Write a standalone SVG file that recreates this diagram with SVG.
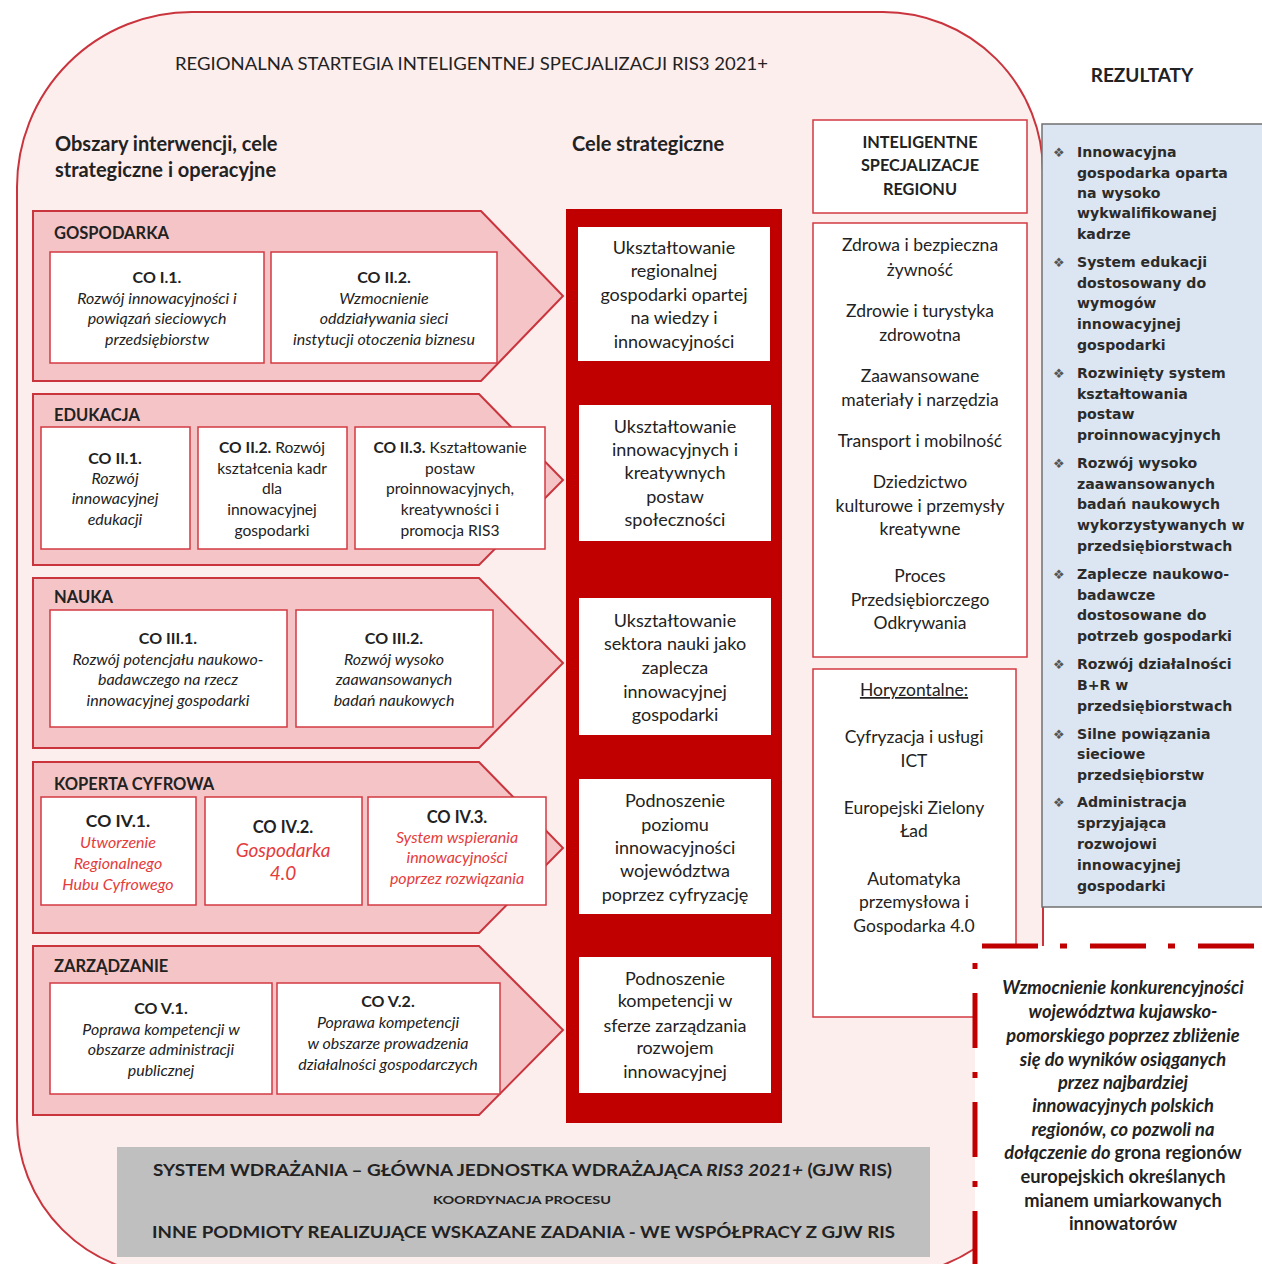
<svg xmlns="http://www.w3.org/2000/svg" width="1262" height="1264" viewBox="0 0 1262 1264">
<style>
.t{font-family:Lato,"Liberation Sans",sans-serif;fill:#222}
.b{font-weight:bold}
.i{font-style:italic}
.r{fill:#e53b3b}
.m{text-anchor:middle}
.co{font-size:16px}
.sl{font-size:16.5px;font-weight:bold}
.sc{font-size:18px}
.sp{font-size:17.5px}
.sec{fill:#f5c4c6;stroke:#c9343d;stroke-width:2}
.box{fill:#fff;stroke:#d23a42;stroke-width:1.5}
.wbox{fill:#fff}
.res{font-family:"DejaVu Sans","Liberation Sans",sans-serif;font-weight:bold;fill:#2b2b2b;font-size:14.1px}
.bul{font-family:"DejaVu Sans",sans-serif;fill:#555;font-size:13px}
</style>
<rect width="1262" height="1264" fill="#fff"/>
<g id="container">
<path d="M17,187 A175,175 0 0 1 192,12 L883,12 A160,160 0 0 1 1043,172 L1043,1120 A155,155 0 0 1 888,1275 L172,1275 A155,155 0 0 1 17,1120 Z" fill="#fdeeee" stroke="#c9343d" stroke-width="2"/>
</g>
<g id="titles">
<text class="t" x="175" y="70" font-size="16.5" textLength="593" lengthAdjust="spacingAndGlyphs">REGIONALNA STARTEGIA INTELIGENTNEJ SPECJALIZACJI RIS3 2021+</text>
<text class="t b" x="1142" y="82" font-size="19" text-anchor="middle">REZULTATY</text>
<text class="t b" x="55" y="151" font-size="20">Obszary interwencji, cele</text>
<text class="t b" x="55" y="177" font-size="20">strategiczne i operacyjne</text>
<text class="t b" x="572" y="151" font-size="20">Cele strategiczne</text>
</g>
<g id="sec-gospodarka">
<polygon class="sec" points="33,211 481,211 563,296 481,381 33,381"/>
<text class="t sl" x="54" y="239">GOSPODARKA</text>
<rect class="box" x="50" y="252" width="214" height="111"/>
<text class="t m co"><tspan class="b" x="157" y="283">CO I.1.</tspan><tspan class="i" x="157" y="304">Rozwój innowacyjności i</tspan><tspan class="i" x="157" y="324">powiązań sieciowych</tspan><tspan class="i" x="157" y="345">przedsiębiorstw</tspan></text>
<rect class="box" x="271" y="252" width="226" height="111"/>
<text class="t m co"><tspan class="b" x="384" y="283">CO II.2.</tspan><tspan class="i" x="384" y="304">Wzmocnienie</tspan><tspan class="i" x="384" y="324">oddziaływania sieci</tspan><tspan class="i" x="384" y="345">instytucji otoczenia biznesu</tspan></text>
</g>
<g id="sec-edukacja">
<polygon class="sec" points="33,394 479,394 563,480 479,565 33,565"/>
<text class="t sl" x="54" y="421">EDUKACJA</text>
<rect class="box" x="41" y="427" width="149" height="122"/>
<text class="t m co"><tspan class="b" x="115" y="464">CO II.1.</tspan><tspan class="i" x="115" y="484">Rozwój</tspan><tspan class="i" x="115" y="504">innowacyjnej</tspan><tspan class="i" x="115" y="525">edukacji</tspan></text>
<rect class="box" x="198" y="427" width="149" height="122"/>
<text class="t m" font-size="15.6"><tspan x="272" y="453"><tspan class="b">CO II.2.</tspan> Rozwój</tspan><tspan x="272" y="474">kształcenia kadr</tspan><tspan x="272" y="494">dla</tspan><tspan x="272" y="515">innowacyjnej</tspan><tspan x="272" y="536">gospodarki</tspan></text>
<rect class="box" x="355" y="427" width="190" height="122"/>
<text class="t m" font-size="15.6"><tspan x="450" y="453"><tspan class="b">CO II.3.</tspan> Kształtowanie</tspan><tspan x="450" y="474">postaw</tspan><tspan x="450" y="494">proinnowacyjnych,</tspan><tspan x="450" y="515">kreatywności i</tspan><tspan x="450" y="536">promocja RIS3</tspan></text>
</g>
<g id="sec-nauka">
<polygon class="sec" points="33,578 479,578 563,663 479,748 33,748"/>
<text class="t sl" x="54" y="603">NAUKA</text>
<rect class="box" x="50" y="610" width="237" height="117"/>
<text class="t m co"><tspan class="b" x="168" y="644">CO III.1.</tspan><tspan class="i" x="168" y="665">Rozwój potencjału naukowo-</tspan><tspan class="i" x="168" y="685">badawczego na rzecz</tspan><tspan class="i" x="168" y="706">innowacyjnej gospodarki</tspan></text>
<rect class="box" x="296" y="610" width="197" height="117"/>
<text class="t m co"><tspan class="b" x="394" y="644">CO III.2.</tspan><tspan class="i" x="394" y="665">Rozwój wysoko</tspan><tspan class="i" x="394" y="685">zaawansowanych</tspan><tspan class="i" x="394" y="706">badań naukowych</tspan></text>
</g>
<g id="sec-koperta">
<polygon class="sec" points="33,762 479,762 563,848 479,933 33,933"/>
<text class="t sl" x="54" y="790">KOPERTA CYFROWA</text>
<rect class="box" x="41" y="797" width="155" height="108"/>
<text class="t m co"><tspan class="b" x="118" y="827" font-size="17.5">CO IV.1.</tspan><tspan class="i r" x="118" y="848">Utworzenie</tspan><tspan class="i r" x="118" y="869">Regionalnego</tspan><tspan class="i r" x="118" y="890">Hubu Cyfrowego</tspan></text>
<rect class="box" x="205" y="797" width="157" height="108"/>
<text class="t m" font-size="19"><tspan class="b" x="283" y="833" font-size="16.5">CO IV.2.</tspan><tspan class="i r" x="283" y="857">Gospodarka</tspan><tspan class="i r" x="283" y="880">4.0</tspan></text>
<rect class="box" x="368" y="797" width="178" height="108"/>
<text class="t m co"><tspan class="b" x="457" y="823" font-size="16.5">CO IV.3.</tspan><tspan class="i r" x="457" y="843">System wspierania</tspan><tspan class="i r" x="457" y="863">innowacyjności</tspan><tspan class="i r" x="457" y="884">poprzez rozwiązania</tspan></text>
</g>
<g id="sec-zarzadzanie">
<polygon class="sec" points="33,946 479,946 563,1030 479,1115 33,1115"/>
<text class="t sl" x="54" y="972">ZARZĄDZANIE</text>
<rect class="box" x="50" y="983" width="222" height="111"/>
<text class="t m co"><tspan class="b" x="161" y="1014">CO V.1.</tspan><tspan class="i" x="161" y="1035">Poprawa kompetencji w</tspan><tspan class="i" x="161" y="1055">obszarze administracji</tspan><tspan class="i" x="161" y="1076">publicznej</tspan></text>
<rect class="box" x="277" y="983" width="223" height="111"/>
<text class="t m co"><tspan class="b" x="388" y="1007">CO V.2.</tspan><tspan class="i" x="388" y="1028">Poprawa kompetencji</tspan><tspan class="i" x="388" y="1049">w obszarze prowadzenia</tspan><tspan class="i" x="388" y="1070">działalności gospodarczych</tspan></text>
</g>
<g id="cele-strategiczne">
<rect x="566" y="209" width="216" height="914" fill="#c00000"/>
<rect class="wbox" x="578" y="227" width="192" height="134"/>
<text class="t m sc"><tspan x="674" y="254">Ukształtowanie</tspan><tspan x="674" y="277">regionalnej</tspan><tspan x="674" y="301">gospodarki opartej</tspan><tspan x="674" y="324">na wiedzy i</tspan><tspan x="674" y="348">innowacyjności</tspan></text>
<rect class="wbox" x="579" y="405" width="192" height="136"/>
<text class="t m sc"><tspan x="675" y="433">Ukształtowanie</tspan><tspan x="675" y="456">innowacyjnych i</tspan><tspan x="675" y="479">kreatywnych</tspan><tspan x="675" y="503">postaw</tspan><tspan x="675" y="526">społeczności</tspan></text>
<rect class="wbox" x="579" y="598" width="192" height="137"/>
<text class="t m sc"><tspan x="675" y="627">Ukształtowanie</tspan><tspan x="675" y="650">sektora nauki jako</tspan><tspan x="675" y="674">zaplecza</tspan><tspan x="675" y="698">innowacyjnej</tspan><tspan x="675" y="721">gospodarki</tspan></text>
<rect class="wbox" x="579" y="779" width="192" height="135"/>
<text class="t m sc"><tspan x="675" y="807">Podnoszenie</tspan><tspan x="675" y="831">poziomu</tspan><tspan x="675" y="854">innowacyjności</tspan><tspan x="675" y="877">województwa</tspan><tspan x="675" y="901">poprzez cyfryzację</tspan></text>
<rect class="wbox" x="579" y="957" width="192" height="136"/>
<text class="t m sc"><tspan x="675" y="985">Podnoszenie</tspan><tspan x="675" y="1007">kompetencji w</tspan><tspan x="675" y="1032">sferze zarządzania</tspan><tspan x="675" y="1054">rozwojem</tspan><tspan x="675" y="1078">innowacyjnej</tspan></text>
</g>
<g id="inteligentne-specjalizacje">
<rect class="box" x="813" y="120" width="214" height="93"/>
<text class="t m b" font-size="16.3"><tspan x="920" y="148">INTELIGENTNE</tspan><tspan x="920" y="171">SPECJALIZACJE</tspan><tspan x="920" y="195">REGIONU</tspan></text>
</g>
<g id="specjalizacje">
<rect class="box" x="813" y="223" width="214" height="434"/>
<text class="t m sp"><tspan x="920" y="251">Zdrowa i bezpieczna</tspan><tspan x="920" y="276">żywność</tspan><tspan x="920" y="317">Zdrowie i turystyka</tspan><tspan x="920" y="341">zdrowotna</tspan><tspan x="920" y="382">Zaawansowane</tspan><tspan x="920" y="406">materiały i narzędzia</tspan><tspan x="920" y="447">Transport i mobilność</tspan><tspan x="920" y="488">Dziedzictwo</tspan><tspan x="920" y="512">kulturowe i przemysły</tspan><tspan x="920" y="535">kreatywne</tspan><tspan x="920" y="582">Proces</tspan><tspan x="920" y="606">Przedsiębiorczego</tspan><tspan x="920" y="629">Odkrywania</tspan></text>
</g>
<g id="horyzontalne">
<rect class="box" x="813" y="669" width="203" height="348"/>
<text class="t m sp" x="914" y="696" text-decoration="underline">Horyzontalne:</text>
<text class="t m sp"><tspan x="914" y="743">Cyfryzacja i usługi</tspan><tspan x="914" y="767">ICT</tspan><tspan x="914" y="814">Europejski Zielony</tspan><tspan x="914" y="837">Ład</tspan><tspan x="914" y="885">Automatyka</tspan><tspan x="914" y="908">przemysłowa i</tspan><tspan x="914" y="932">Gospodarka 4.0</tspan></text>
</g>
<g id="rezultaty">
<rect x="1042" y="124" width="230" height="783" fill="#dce6f2" stroke="#707070" stroke-width="1.5"/>
<g class="bul">
<text x="1053" y="157">❖</text><text x="1053" y="267">❖</text><text x="1053" y="378">❖</text><text x="1053" y="468">❖</text><text x="1053" y="579">❖</text><text x="1053" y="669">❖</text><text x="1053" y="739">❖</text><text x="1053" y="807">❖</text>
</g>
<text class="res"><tspan x="1077" y="157">Innowacyjna</tspan><tspan x="1077" y="178">gospodarka oparta</tspan><tspan x="1077" y="198">na wysoko</tspan><tspan x="1077" y="218">wykwalifikowanej</tspan><tspan x="1077" y="239">kadrze</tspan><tspan x="1077" y="267">System edukacji</tspan><tspan x="1077" y="288">dostosowany do</tspan><tspan x="1077" y="308">wymogów</tspan><tspan x="1077" y="329">innowacyjnej</tspan><tspan x="1077" y="350">gospodarki</tspan><tspan x="1077" y="378">Rozwinięty system</tspan><tspan x="1077" y="399">kształtowania</tspan><tspan x="1077" y="419">postaw</tspan><tspan x="1077" y="440">proinnowacyjnych</tspan><tspan x="1077" y="468">Rozwój wysoko</tspan><tspan x="1077" y="489">zaawansowanych</tspan><tspan x="1077" y="509">badań naukowych</tspan><tspan x="1077" y="530">wykorzystywanych w</tspan><tspan x="1077" y="551">przedsiębiorstwach</tspan><tspan x="1077" y="579">Zaplecze naukowo-</tspan><tspan x="1077" y="600">badawcze</tspan><tspan x="1077" y="620">dostosowane do</tspan><tspan x="1077" y="641">potrzeb gospodarki</tspan><tspan x="1077" y="669">Rozwój działalności</tspan><tspan x="1077" y="690">B+R w</tspan><tspan x="1077" y="711">przedsiębiorstwach</tspan><tspan x="1077" y="739">Silne powiązania</tspan><tspan x="1077" y="759">sieciowe</tspan><tspan x="1077" y="780">przedsiębiorstw</tspan><tspan x="1077" y="807">Administracja</tspan><tspan x="1077" y="828">sprzyjająca</tspan><tspan x="1077" y="849">rozwojowi</tspan><tspan x="1077" y="870">innowacyjnej</tspan><tspan x="1077" y="891">gospodarki</tspan></text>
</g>
<g id="wizja">
<rect x="975" y="946" width="300" height="330" fill="#fff"/>
<line x1="982" y1="946" x2="1262" y2="946" stroke="#c00000" stroke-width="5" stroke-dasharray="56 22 7 23"/>
<line x1="975" y1="963" x2="975" y2="1264" stroke="#c00000" stroke-width="5" stroke-dasharray="6 24 55 24"/>
<text class="t m b i" font-size="18.3"><tspan x="1123" y="994">Wzmocnienie konkurencyjności</tspan><tspan x="1123" y="1018">województwa kujawsko-</tspan><tspan x="1123" y="1042">pomorskiego poprzez zbliżenie</tspan><tspan x="1123" y="1066">się do wyników osiąganych</tspan><tspan x="1123" y="1089">przez  najbardziej</tspan><tspan x="1123" y="1112">innowacyjnych polskich</tspan><tspan x="1123" y="1136">regionów, co pozwoli na</tspan><tspan x="1123" y="1159">dołączenie do <tspan font-style="normal">grona regionów</tspan></tspan><tspan x="1123" y="1183" font-style="normal">europejskich określanych</tspan><tspan x="1123" y="1207" font-style="normal">mianem umiarkowanych</tspan><tspan x="1123" y="1230" font-style="normal">innowatorów</tspan></text>
</g>
<g id="system-wdrazania">
<rect x="117" y="1147" width="813" height="110" fill="#bfbfbf"/>
<text class="t b" x="153" y="1176" font-size="17" textLength="739" lengthAdjust="spacingAndGlyphs">SYSTEM WDRAŻANIA – GŁÓWNA JEDNOSTKA WDRAŻAJĄCA <tspan font-style="italic">RIS3 2021+</tspan> (GJW RIS)</text>
<text class="t b" x="433" y="1204" font-size="12" textLength="178" lengthAdjust="spacingAndGlyphs">KOORDYNACJA PROCESU</text>
<text class="t b" x="152" y="1238" font-size="17" textLength="743" lengthAdjust="spacingAndGlyphs">INNE PODMIOTY REALIZUJĄCE WSKAZANE ZADANIA - WE WSPÓŁPRACY Z GJW RIS</text>
</g>
</svg>
